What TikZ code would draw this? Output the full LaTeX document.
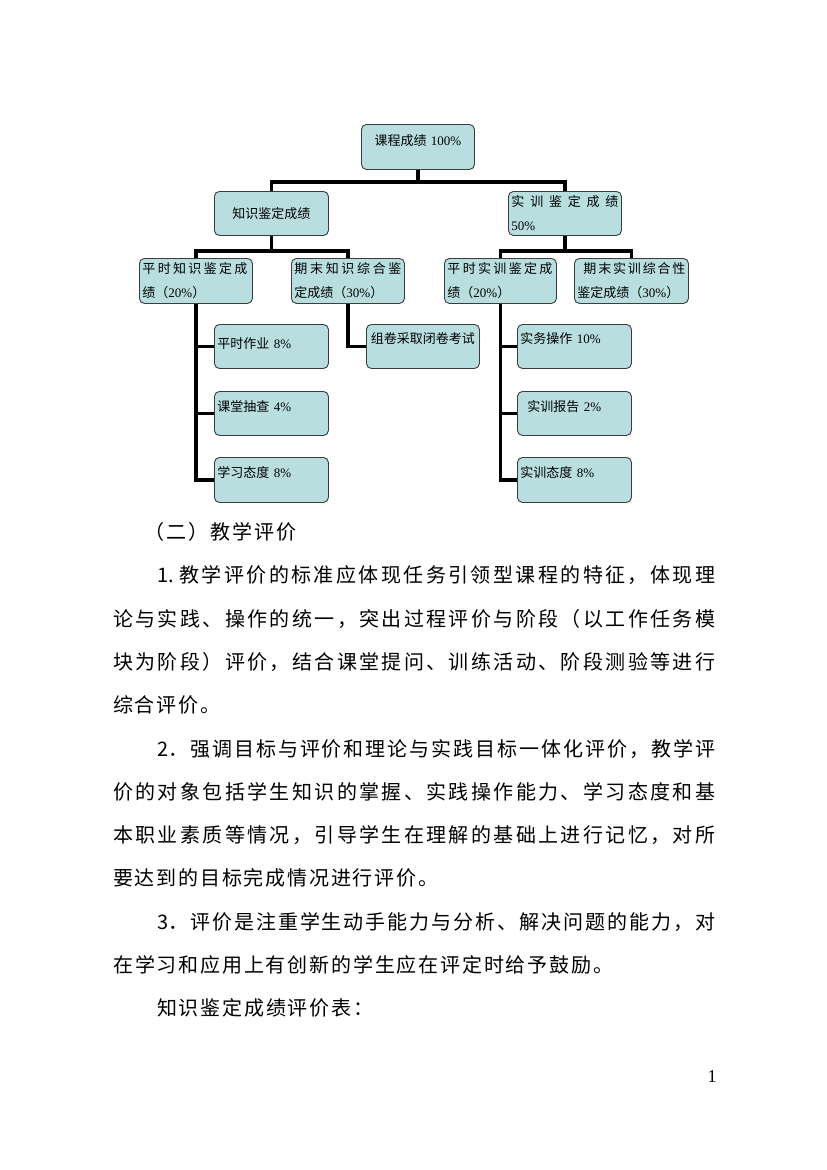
\documentclass[tikz,border=0pt]{standalone}
\usepackage{fontspec}
\setmainfont{Liberation Serif}
\newfontfamily\cjk{Noto Sans CJK SC}
\definecolor{boxfill}{RGB}{185,222,224}
\definecolor{boxline}{RGB}{60,60,60}
\ExplSyntaxOn
\bool_new:N \l_my_first_bool
\NewDocumentCommand\spread{mm}{
  \hbox_to_wd:nn {#1} {
    \bool_set_true:N \l_my_first_bool
    \tl_map_inline:nn {#2} {
      \bool_if:NTF \l_my_first_bool { \bool_set_false:N \l_my_first_bool } { \hfill }
      ##1
    }
  }
}
\ExplSyntaxOff
\tikzset{
  box/.style={draw=boxline, fill=boxfill, rounded corners=5pt, line width=0.9pt,
    anchor=north west, inner xsep=3pt, inner ysep=0pt,
    font=\fontsize{13}{24}\selectfont, align=left},
  conn/.style={line width=3.5pt, black, line join=miter},
  bodyline/.style={anchor=base west, inner sep=0pt, font=\cjk\fontsize{20}{20}\selectfont},
}
\newcommand\up[2]{\raisebox{#1}[\height][\depth]{#2}}
\begin{document}
\begin{tikzpicture}[x=1pt,y=-1pt]
\useasboundingbox[fill=white] (0,0) rectangle (827,1170);
% chart boxes
\node[box, align=center, text width=107pt, minimum width=113pt, minimum height=45pt] (top) at (361,124)
  {\up{6pt}{{\cjk 课程成绩} 100\%}};
\node[box, align=center, text width=108pt, minimum width=114pt, minimum height=44pt] (kn) at (214,191)
  {{\cjk 知识鉴定成绩}};
\node[box, text width=107pt, minimum width=113pt, minimum height=44pt] (sx) at (508,191)
  {{\cjk\spread{107pt}{实训鉴定成绩}}\\50\%};
\node[box, text width=107pt, minimum width=113pt, minimum height=45pt] (a) at (139,258)
  {{\cjk\spread{105pt}{平时知识鉴定成}}\\{\cjk 绩（}20\%{\cjk ）}};
\node[box, text width=107pt, minimum width=113pt, minimum height=45pt] (b) at (291,258)
  {{\cjk\spread{107pt}{期末知识综合鉴}}\\{\cjk 定成绩（}30\%{\cjk ）}};
\node[box, text width=106pt, minimum width=112pt, minimum height=45pt] (c) at (444,258)
  {{\cjk\spread{105pt}{平时实训鉴定成}}\\{\cjk 绩（}20\%{\cjk ）}};
\node[box, text width=108pt, minimum width=114pt, minimum height=45pt] (d) at (574,258)
  {\hspace*{6pt}{\cjk\spread{102pt}{期末实训综合性}}\\{\cjk 鉴定成绩（}30\%{\cjk ）}};
\node[box, text width=108pt, minimum width=114pt, minimum height=44pt] (a1) at (214,324)
  {\up{3pt}{{\cjk 平时作业} 8\%}};
\node[box, text width=108pt, minimum width=114pt, minimum height=44pt] (a2) at (214,391)
  {\up{7pt}{{\cjk 课堂抽查} 4\%}};
\node[box, text width=108pt, minimum width=114pt, minimum height=45pt] (a3) at (214,457)
  {\up{7.5pt}{{\cjk 学习态度} 8\%}};
\node[box, align=center, text width=107pt, minimum width=113pt, minimum height=44pt] (b1) at (366,324)
  {\up{8pt}{{\cjk 组卷采取闭卷考试}}};
\node[box, text width=108pt, minimum width=114pt, minimum height=44pt] (c1) at (517,324)
  {\up{8pt}{{\cjk 实务操作} 10\%}};
\node[box, text width=108pt, minimum width=114pt, minimum height=44pt] (c2) at (517,391)
  {\up{7pt}{\hspace*{7pt}{\cjk 实训报告} 2\%}};
\node[box, text width=108pt, minimum width=114pt, minimum height=45pt] (c3) at (517,457)
  {\up{7.5pt}{{\cjk 实训态度} 8\%}};
% connectors
\draw[conn] (top.south) -- ++(0,12) -| (kn.north);
\draw[conn] (top.south) -- ++(0,12) -| (sx.north);
\draw[conn] (kn.south) -- ++(0,15) -| (a.north);
\draw[conn] (kn.south) -- ++(0,15) -| (b.north);
\draw[conn] (sx.south) -- ++(0,15) -| (c.north);
\draw[conn] (sx.south) -- ++(0,15) -| (d.north);
\draw[conn] (a.south) |- (a1.west);
\draw[conn] (a.south) |- (a2.west);
\draw[conn] (a.south) |- (a3.west);
\draw[conn] (b.south) |- (b1.west);
\draw[conn] (c.south) |- (c1.west);
\draw[conn] (c.south) |- (c2.west);
\draw[conn] (c.south) |- (c3.west);
% body text
\node[bodyline] (l0) at (144,539) {\spread{152pt}{（二）教学评价}};
\node[bodyline] (l1) at (157,582) {\spread{558pt}{{1.\hspace{3pt}}教学评价的标准应体现任务引领型课程的特征，体现理}};
\node[bodyline] (l2) at (113,626) {\spread{602pt}{论与实践、操作的统一，突出过程评价与阶段（以工作任务模}};
\node[bodyline] (l3) at (113,669) {\spread{602pt}{块为阶段）评价，结合课堂提问、训练活动、阶段测验等进行}};
\node[bodyline] (l4) at (113,712) {\spread{107pt}{综合评价。}};
\node[bodyline] (l5) at (157,756) {\spread{558pt}{{2．}强调目标与评价和理论与实践目标一体化评价，教学评}};
\node[bodyline] (l6) at (113,799) {\spread{602pt}{价的对象包括学生知识的掌握、实践操作能力、学习态度和基}};
\node[bodyline] (l7) at (113,842) {\spread{602pt}{本职业素质等情况，引导学生在理解的基础上进行记忆，对所}};
\node[bodyline] (l8) at (113,885) {\spread{325pt}{要达到的目标完成情况进行评价。}};
\node[bodyline] (l9) at (157,929) {\spread{558pt}{{3．}评价是注重学生动手能力与分析、解决问题的能力，对}};
\node[bodyline] (l10) at (113,972) {\spread{500pt}{在学习和应用上有创新的学生应在评定时给予鼓励。}};
\node[bodyline] (l11) at (157,1015) {\spread{216pt}{知识鉴定成绩评价表：}};
\node[anchor=center, inner sep=0pt, font=\fontsize{18}{18}\selectfont] (pg) at (712,1077) {1};
\end{tikzpicture}
\end{document}
